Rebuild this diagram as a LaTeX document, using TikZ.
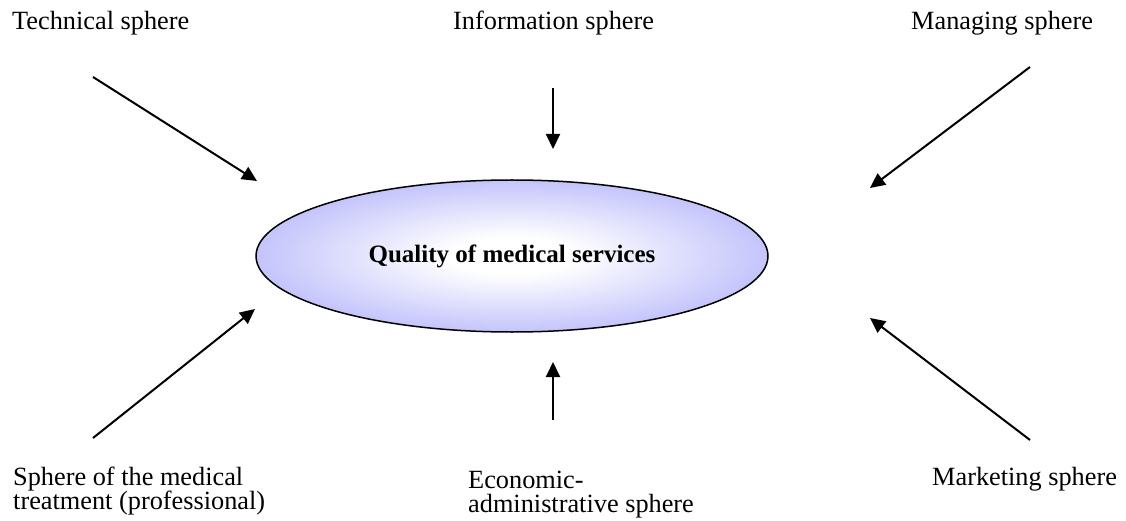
\documentclass[tikz,border=0pt]{standalone}
\usepackage{fontspec}
\setmainfont{Liberation Serif}
\usetikzlibrary{arrows.meta,shapes.geometric}
\definecolor{ellblue}{RGB}{174,174,250}
% soft white core fading into lavender blue
\pgfdeclareradialshading{glow}{\pgfpoint{0bp}{0bp}}{%
  color(0bp)=(white); color(6bp)=(white); color(32bp)=(ellblue); color(50bp)=(ellblue)}
\lineskiplimit=-30pt
\begin{document}
\begin{tikzpicture}[x=1pt,y=-1pt,
  sphere/.style={inner sep=0pt,anchor=base west,align=left,
    font=\fontsize{26.3}{23.8}\selectfont},
  flow/.style={line width=2pt,-{Triangle[length=15pt,width=14pt]}}]
\useasboundingbox (0,0) rectangle (1126,521);

% central ellipse
\node[ellipse,draw,line width=1.5pt,shading=glow,minimum width=512pt,minimum height=152pt,
  inner sep=0pt,font=\fontsize{25}{28}\selectfont\bfseries] (quality) at (512,256)
  {Quality of medical services};

% surrounding spheres (two-line labels are anchored on their last baseline)
\node[sphere] (tech) at (12,30) {Technical sphere};
\node[sphere] (info) at (453,30) {Information sphere};
\node[sphere] (manage) at (911,30) {Managing sphere};
\node[sphere] (treat) at (13,509) {Sphere of the medical\\treatment (professional)};
\node[sphere] (econ) at (468,512) {Economic-\\administrative sphere};
\node[sphere] (market) at (932,485) {Marketing sphere};

% arrow ends
\coordinate (t1) at (93,77);    \coordinate (h1) at (257,181);
\coordinate (t2) at (553,88);   \coordinate (h2) at (553,149);
\coordinate (t3) at (1030,67);  \coordinate (h3) at (870,188);
\coordinate (t4) at (93,438);   \coordinate (h4) at (255,309);
\coordinate (t5) at (553,420);  \coordinate (h5) at (553,362);
\coordinate (t6) at (1030,440); \coordinate (h6) at (870,318);

\draw[flow] (t1) -- (h1);
\draw[flow] (t2) -- (h2);
\draw[flow] (t3) -- (h3);
\draw[flow] (t4) -- (h4);
\draw[flow] (t5) -- (h5);
\draw[flow] (t6) -- (h6);
\end{tikzpicture}
\end{document}
